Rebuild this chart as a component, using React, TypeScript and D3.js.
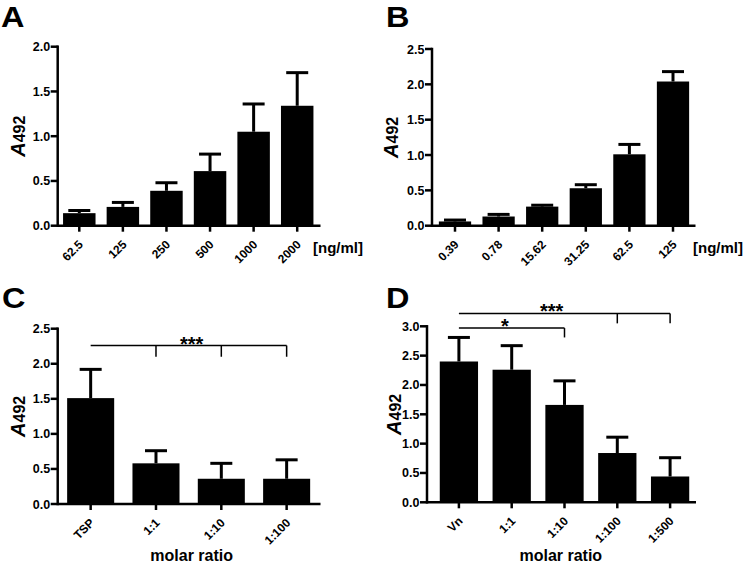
import React from "react";
import * as d3 from "d3";

// ---------- data ----------
const aCats = ["62.5", "125", "250", "500", "1000", "2000"];
const aMeans = [0.14, 0.21, 0.39, 0.61, 1.05, 1.34];
const aErr = [0.03, 0.05, 0.09, 0.19, 0.31, 0.37];
const aTicks = [0, 0.5, 1.0, 1.5, 2.0];

const bCats = ["0.39", "0.78", "15.62", "31.25", "62.5", "125"];
const bMeans = [0.06, 0.13, 0.27, 0.53, 1.01, 2.04];
const bErr = [0.02, 0.03, 0.02, 0.05, 0.14, 0.14];
const bTicks = [0, 0.5, 1.0, 1.5, 2.0, 2.5];

const cCats = ["TSP", "1:1", "1:10", "1:100"];
const cMeans = [1.51, 0.58, 0.36, 0.36];
const cErr = [0.41, 0.18, 0.22, 0.27];
const cTicks = [0, 0.5, 1.0, 1.5, 2.0, 2.5];

const dCats = ["Vn", "1:1", "1:10", "1:100", "1:500"];
const dMeans = [2.4, 2.26, 1.66, 0.84, 0.44];
const dErr = [0.41, 0.41, 0.41, 0.27, 0.32];
const dTicks = [0, 0.5, 1.0, 1.5, 2.0, 2.5, 3.0];

const tickFmt = d3.format(".1f");
const FONT = "'Liberation Sans', Arial, Helvetica, sans-serif";

type Bracket = { from: string; to: string[]; level: number; drop: number; label: string; labelX: number };

type PanelProps = {
  letter: string;
  letterX: number;
  letterY: number;
  cats: string[];
  means: number[];
  errs: number[];
  ticks: number[];
  axisX: number;
  bandStart: number;
  bandEnd: number;
  lineEnd: number;
  y0: number;
  yTop: number;
  pad: number;
  ylabelX: number;
  xTitle?: string;
  xTitleX?: number;
  xTitleY?: number;
  unit?: string;
  unitX?: number;
  unitY?: number;
  brackets?: Bracket[];
};

function Panel(p: PanelProps) {
  const yMax = p.ticks[p.ticks.length - 1];
  const y = d3.scaleLinear().domain([0, yMax]).range([p.y0, p.yTop]);
  const x = d3.scaleBand<string>().domain(p.cats).range([p.bandStart, p.bandEnd]).padding(0);
  const step = x.step();
  const bw = step * (1 - p.pad);
  const cap = 22;
  const cx = (c: string) => (x(c) as number) + step / 2;
  const yMid = (p.y0 + p.yTop) / 2;
  return (
    <g fontFamily={FONT} fill="#000">
      <text transform={`translate(${p.letterX},${p.letterY}) scale(1.12,1)`} fontSize={29} fontWeight="bold">{p.letter}</text>
      {/* bars */}
      {p.cats.map((c, i) => (
        <g key={c}>
          <line x1={cx(c)} x2={cx(c)} y1={y(p.means[i])} y2={y(p.means[i] + p.errs[i])} stroke="#000" strokeWidth={3} />
          <line x1={cx(c) - cap / 2} x2={cx(c) + cap / 2} y1={y(p.means[i] + p.errs[i])} y2={y(p.means[i] + p.errs[i])} stroke="#000" strokeWidth={3} />
          <rect x={cx(c) - bw / 2} y={y(p.means[i])} width={bw} height={p.y0 - y(p.means[i])} fill="#000" />
        </g>
      ))}
      {/* y axis */}
      <line x1={p.axisX} x2={p.axisX} y1={p.y0 + 1.25} y2={p.yTop - 1.25} stroke="#000" strokeWidth={2.5} />
      {p.ticks.map((t) => (
        <g key={t}>
          <line x1={p.axisX - 7} x2={p.axisX} y1={y(t)} y2={y(t)} stroke="#000" strokeWidth={2.5} />
          <text x={p.axisX - 7.5} y={y(t)} dy="0.36em" textAnchor="end" fontSize={12.5} fontWeight="bold">{tickFmt(t)}</text>
        </g>
      ))}
      {/* x axis */}
      <line x1={p.axisX} x2={p.lineEnd} y1={p.y0} y2={p.y0} stroke="#000" strokeWidth={2.5} />
      {p.cats.map((c) => (
        <g key={"t" + c}>
          <line x1={cx(c)} x2={cx(c)} y1={p.y0} y2={p.y0 + 6} stroke="#000" strokeWidth={2.5} />
          <text transform={`translate(${cx(c) + 4.5},${p.y0 + 19.5}) rotate(-45)`} textAnchor="end" fontSize={12} fontWeight="bold">{c}</text>
        </g>
      ))}
      {/* y label */}
      <text transform={`translate(${p.ylabelX},${yMid}) rotate(-90)`} textAnchor="middle" fontWeight="bold">
        <tspan fontStyle="italic" fontSize={20}>A</tspan>
        <tspan fontSize={16}>492</tspan>
      </text>
      {p.xTitle && (
        <text x={p.xTitleX} y={p.xTitleY} textAnchor="middle" fontSize={16} fontWeight="bold">{p.xTitle}</text>
      )}
      {p.unit && (
        <text x={p.unitX} y={p.unitY} fontSize={15} fontWeight="bold">{p.unit}</text>
      )}
      {(p.brackets || []).map((b, k) => {
        const ly = y(b.level);
        const dy = y(b.level - b.drop);
        const xs = b.to.map(cx);
        const x0 = cx(b.from);
        const x1 = Math.max(...xs);
        return (
          <g key={k}>
            <line x1={x0} x2={x1} y1={ly} y2={ly} stroke="#000" strokeWidth={1.5} />
            {xs.map((xx, j) => (
              <line key={j} x1={xx} x2={xx} y1={ly} y2={dy} stroke="#000" strokeWidth={1.5} />
            ))}
            <text x={b.labelX} y={ly + 5} textAnchor="middle" fontSize={20} fontWeight="bold">{b.label}</text>
          </g>
        );
      })}
    </g>
  );
}

export default function App() {
  return (
    <svg width={745} height={566} style={{ position: "absolute", left: 0, top: 0, background: "#fff" }}>
      <rect width={745} height={566} fill="#fff" />
      <Panel letter="A" letterX={1} letterY={27} cats={aCats} means={aMeans} errs={aErr} ticks={aTicks}
        axisX={57.7} bandStart={57.5} bandEnd={319} lineEnd={320.5} y0={225.7} yTop={46.7} pad={0.255}
        ylabelX={25} unit="[ng/ml]" unitX={313} unitY={253} />
      <Panel letter="B" letterX={386} letterY={27} cats={bCats} means={bMeans} errs={bErr} ticks={bTicks}
        axisX={432} bandStart={433.2} bandEnd={694.8} lineEnd={695.5} y0={225.7} yTop={49} pad={0.26}
        ylabelX={398} unit="[ng/ml]" unitX={693} unitY={253} />
      <Panel letter="C" letterX={2} letterY={308} cats={cCats} means={cMeans} errs={cErr} ticks={cTicks}
        axisX={57.7} bandStart={58} bandEnd={319.3} lineEnd={320.5} y0={504} yTop={328.7} pad={0.28}
        ylabelX={25} xTitle="molar ratio" xTitleX={191.7} xTitleY={561}
        brackets={[{ from: "TSP", to: ["1:1", "1:10", "1:100"], level: 2.26, drop: 0.16, label: "***", labelX: 191.7 }]} />
      <Panel letter="D" letterX={386} letterY={308} cats={dCats} means={dMeans} errs={dErr} ticks={dTicks}
        axisX={427} bandStart={432.5} bandEnd={696.5} lineEnd={696} y0={502.3} yTop={326.3} pad={0.275}
        ylabelX={401} xTitle="molar ratio" xTitleX={560.8} xTitleY={561}
        brackets={[
          { from: "Vn", to: ["1:100", "1:500"], level: 3.22, drop: 0.17, label: "***", labelX: 551.7 },
          { from: "Vn", to: ["1:10"], level: 2.97, drop: 0.16, label: "*", labelX: 505 },
        ]} />
    </svg>
  );
}
